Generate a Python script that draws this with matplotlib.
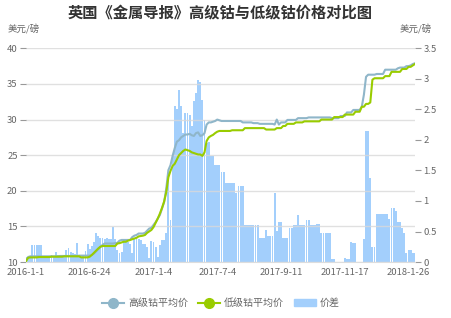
import matplotlib
matplotlib.use("Agg")
import matplotlib.pyplot as plt
from matplotlib.lines import Line2D
from matplotlib.patches import Patch
import numpy as np

plt.rcParams['font.family'] = ['Noto Sans CJK SC', 'DejaVu Sans']

# x axis labels (one every 30 points)
x_labels = ['2016-1-1', '2016-6-24', '2017-1-4', '2017-7-4',
            '2017-9-11', '2017-11-17', '2018-1-26']
label_step = 30

# high grade cobalt, USD/lb
high = [10.3, 10.7, 10.8, 10.8, 10.8, 10.8, 10.8, 10.8, 10.8, 10.8,
        10.8, 10.8, 10.8, 10.8, 10.8, 10.8, 10.85, 10.85, 10.85, 10.85,
        10.85, 10.85, 10.85, 10.85, 10.85, 10.9, 10.9, 10.9, 10.9, 10.9,
        10.9, 11.0, 11.2, 11.5, 11.8, 12.1, 12.4, 12.6, 12.6, 12.6,
        12.6, 12.6, 12.65, 12.7, 13.0, 13.1, 13.1, 13.1, 13.1, 13.1,
        13.5, 13.7, 13.8, 14.0, 14.0, 14.0, 14.1, 14.4, 14.7, 14.8,
        15.2, 15.6, 16.1, 16.6, 17.5, 18.4, 20.3, 22.9, 23.6, 24.9,
        26.0, 26.9, 27.1, 27.5, 27.7, 27.9, 27.9, 28.0, 27.8, 27.7,
        28.1, 28.2, 27.7, 27.8, 28.1, 29.3, 29.6, 29.6, 29.7, 29.8,
        30.0, 29.9, 29.8, 29.8, 29.8, 29.8, 29.8, 29.8, 29.8, 29.8,
        29.8, 29.8, 29.6, 29.6, 29.6, 29.6, 29.6, 29.5, 29.5, 29.5,
        29.4, 29.4, 29.4, 29.4, 29.4, 29.4, 29.4, 29.3, 30.0, 29.3,
        29.6, 29.6, 29.6, 29.95, 29.95, 29.95, 29.95, 29.95, 30.2, 30.2,
        30.2, 30.2, 30.2, 30.3, 30.3, 30.3, 30.3, 30.3, 30.3, 30.3,
        30.3, 30.3, 30.3, 30.3, 30.2, 30.2, 30.2, 30.2, 30.5, 30.5,
        30.5, 31.0, 31.0, 31.0, 31.35, 31.35, 31.35, 31.35, 31.8, 33.5,
        36.0, 36.3, 36.3, 36.3, 36.3, 36.4, 36.4, 36.4, 36.4, 37.0,
        37.0, 37.0, 37.0, 37.0, 37.0, 37.2, 37.3, 37.3, 37.3, 37.5,
        37.5, 37.6, 37.8, 37.9]

# low grade cobalt, USD/lb
low = [10.1, 10.6, 10.65, 10.65, 10.65, 10.65, 10.7, 10.7, 10.7, 10.7,
       10.7, 10.7, 10.75, 10.75, 10.75, 10.75, 10.75, 10.75, 10.8, 10.8,
       10.8, 10.8, 10.8, 10.8, 10.8, 10.8, 10.65, 10.65, 10.65, 10.65,
       10.75, 11.0, 11.3, 11.6, 11.9, 12.15, 12.25, 12.25, 12.25, 12.25,
       12.25, 12.25, 12.25, 12.6, 12.65, 12.75, 12.85, 12.85, 13.0, 13.1,
       13.2, 13.3, 13.4, 13.6, 13.65, 13.7, 13.8, 14.1, 14.3, 14.5,
       14.9, 15.5, 16.1, 16.8, 17.6, 18.5, 19.8, 21.9, 22.8, 23.5,
       23.8, 24.4, 25.0, 25.3, 25.6, 25.8, 25.7, 25.6, 25.4, 25.3,
       25.2, 25.1, 25.1, 24.9, 25.4, 27.0, 27.5, 27.7, 27.85, 28.1,
       28.3, 28.4, 28.4, 28.4, 28.4, 28.4, 28.4, 28.5, 28.5, 28.5,
       28.5, 28.5, 28.5, 28.8, 28.8, 28.8, 28.8, 28.8, 28.8, 28.8,
       28.8, 28.8, 28.8, 28.6, 28.6, 28.6, 28.6, 28.6, 28.8, 28.8,
       28.8, 29.1, 29.1, 29.4, 29.4, 29.4, 29.4, 29.6, 29.6, 29.6,
       29.6, 29.75, 29.75, 29.75, 29.75, 29.75, 29.75, 29.75, 29.75, 30.0,
       30.0, 30.0, 30.0, 30.0, 30.0, 30.35, 30.35, 30.35, 30.35, 30.35,
       30.7, 30.7, 30.7, 30.7, 30.7, 31.1, 31.1, 31.1, 31.8, 31.8,
       32.2, 32.2, 32.4, 35.6, 35.8, 35.8, 35.8, 35.8, 35.8, 36.1,
       36.1, 36.1, 36.7, 36.7, 36.7, 36.7, 36.7, 37.1, 37.1, 37.1,
       37.4, 37.4, 37.6, 37.8]

# spread (right axis)
spread = [0.08, 0.08, 0.08, 0.28, 0.28, 0.28, 0.28, 0.28, 0.1, 0.1,
          0.1, 0.1, 0.12, 0.1, 0.17, 0.12, 0.1, 0.12, 0.1, 0.2,
          0.23, 0.17, 0.15, 0.13, 0.31, 0.1, 0.07, 0.1, 0.18, 0.3,
          0.22, 0.27, 0.33, 0.47, 0.42, 0.39, 0.39, 0.38, 0.4, 0.38,
          0.38, 0.58, 0.38, 0.2, 0.15, 0.17, 0.32, 0.32, 0.32, 0.3,
          0.15, 0.38, 0.38, 0.38, 0.36, 0.3, 0.3, 0.25, 0.07, 0.34,
          0.33, 0.25, 0.08, 0.28, 0.36, 0.36, 0.47, 1.34, 0.69, 1.73,
          2.55, 2.5, 2.82, 2.55, 2.11, 2.44, 2.44, 2.4, 2.22, 2.63,
          2.77, 2.98, 2.95, 2.66, 2.33, 1.95, 1.97, 1.73, 1.73, 1.59,
          1.59, 1.59, 1.48, 1.48, 1.29, 1.29, 1.29, 1.29, 1.29, 1.13,
          1.25, 1.25, 1.25, 0.6, 0.6, 0.6, 0.6, 0.6, 0.6, 0.6,
          0.39, 0.39, 0.39, 0.52, 0.42, 0.42, 0.42, 1.13, 0.51, 0.66,
          0.66, 0.4, 0.4, 0.4, 0.56, 0.56, 0.6, 0.6, 0.77, 0.6,
          0.6, 0.6, 0.69, 0.69, 0.6, 0.6, 0.6, 0.62, 0.62, 0.47,
          0.47, 0.47, 0.47, 0.47, 0.05, 0.05, 0, 0, 0, 0,
          0.07, 0.05, 0.05, 0.33, 0.31, 0.31, 0, 0, 0, 0.37,
          2.15, 2.15, 1.38, 0.25, 0.25, 0.79, 0.79, 0.79, 0.79, 0.79,
          0.79, 0.7, 0.89, 0.89, 0.83, 0.66, 0.66, 0.56, 0.47, 0.15,
          0.19, 0.19, 0.15, 0.15]

c_high = '#8fb6c9'
c_low = '#99cc00'
c_bar = '#a3cffc'
c_text = '#666666'

x = np.arange(len(high))

fig = plt.figure(figsize=(4.51, 3.18), dpi=100)
ax = fig.add_axes([0.0576, 0.176, 0.8624, 0.672])
ax2 = ax.twinx()

# bars on right axis, lines on left axis (drawn above)
ax2.bar(x, spread, width=0.9, color=c_bar, linewidth=0)
ax.set_zorder(ax2.get_zorder() + 1)
ax.patch.set_visible(False)

ax.plot(x, high, color=c_high, lw=1.5, zorder=3)
ax.plot(x, low, color=c_low, lw=1.5, zorder=3)

ax.set_xlim(0, len(high) - 1)
ax.set_ylim(10, 40)
ax2.set_ylim(0, 3.5)
ax.set_yticks(range(10, 41, 5))
ax2.set_yticks(np.arange(0, 3.51, 0.5))
ax2.set_yticklabels(['0', '0.5', '1', '1.5', '2', '2.5', '3', '3.5'])
ax.set_xticks(np.arange(len(x_labels)) * label_step)
ax.set_xticklabels(x_labels)

ax.grid(axis='y', color='#d9d9d9', lw=1, alpha=0.8, zorder=1)
for a in (ax, ax2):
    for s in a.spines.values():
        s.set_visible(False)
ax.spines['bottom'].set_visible(True)
ax.spines['bottom'].set_color('#dddddd')

ax.tick_params(axis='y', length=4, color='#999999', labelcolor=c_text,
               labelsize=6.8, pad=2)
ax2.tick_params(axis='y', length=4, color='#999999', labelcolor=c_text,
                labelsize=6.8, pad=2)
ax.tick_params(axis='x', length=0, labelcolor=c_text, labelsize=6.8, pad=4)

fig.text(0.489, 0.958, '英国《金属导报》高级钴与低级钴价格对比图',
         ha='center', va='center', fontsize=11, fontweight='bold',
         color='#333333')
fig.text(0.018, 0.908, '美元/磅', ha='left', va='center', fontsize=6.8,
         color=c_text)
fig.text(0.958, 0.908, '美元/磅', ha='right', va='center', fontsize=6.8,
         color=c_text)

handles = [Line2D([0], [0], color=c_high, lw=1.5, marker='o', markersize=7),
           Line2D([0], [0], color=c_low, lw=1.5, marker='o', markersize=7),
           Patch(color=c_bar)]
fig.legend(handles, ['高级钴平均价', '低级钴平均价', '价差'],
           loc='center', bbox_to_anchor=(0.49, 0.047), ncol=3, frameon=False,
           fontsize=7.2, labelcolor=c_text, handlelength=2.2,
           handletextpad=0.4, columnspacing=1.0)

fig.savefig('out.png', dpi=100)
